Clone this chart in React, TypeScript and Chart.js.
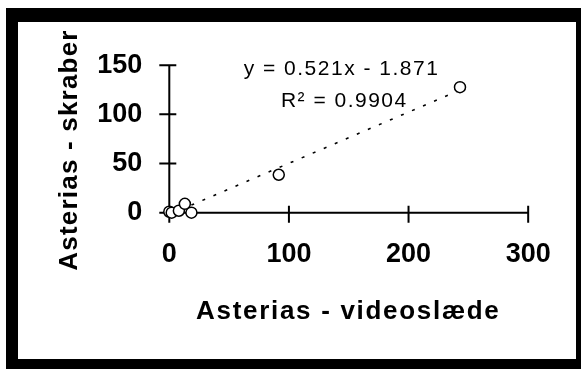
import React, { useEffect, useRef } from 'react';
import { Chart, registerables } from 'chart.js';

Chart.register(...registerables);

// ---- data ----
const xValues = [0, 2, 8, 13, 18.5, 91.5, 243];
const yValues = [1, 0, 2, 9, 0, 38.6, 127.7];
const trendX = [0, 243];
const trendY = [-1.87, 124.7];
const xTicks = [0, 100, 200, 300];
const yTicks = [0, 50, 100, 150];
const xTitle = 'Asterias - videoslæde';
const yTitle = 'Asterias - skraber';
const equationLines = ['y = 0.521x - 1.871', 'R² = 0.9904'];

const FONT = '"Liberation Sans", Arial, sans-serif';

const overlay = {
  id: 'overlay',
  beforeDatasetsDraw(chart: any) {
    const { ctx, scales } = chart;
    const x = scales.x;
    const y = scales.y;
    const x0 = x.getPixelForValue(0);
    const y0 = y.getPixelForValue(0);
    const xEnd = x.getPixelForValue(xTicks[xTicks.length - 1]);
    const yEnd = y.getPixelForValue(yTicks[yTicks.length - 1]);
    ctx.save();
    ctx.strokeStyle = '#000';
    ctx.lineWidth = 2;
    ctx.beginPath();
    ctx.moveTo(x0, yEnd);
    ctx.lineTo(x0, y0);
    ctx.moveTo(x0, y0);
    ctx.lineTo(xEnd, y0);
    xTicks.forEach((v) => {
      const px = x.getPixelForValue(v);
      ctx.moveTo(px, y0 - 7);
      ctx.lineTo(px, y0 + 10);
    });
    yTicks.forEach((v) => {
      const py = y.getPixelForValue(v);
      ctx.moveTo(x0 - 10, py);
      ctx.lineTo(x0 + 7, py);
    });
    ctx.stroke();
    ctx.restore();
  },
  afterDraw(chart: any) {
    const { ctx, chartArea } = chart;
    ctx.save();
    ctx.fillStyle = '#000';
    // x title
    ctx.font = `bold 26px ${FONT}`;
    (ctx as any).letterSpacing = '1.7px';
    ctx.textAlign = 'center';
    ctx.textBaseline = 'alphabetic';
    ctx.fillText(xTitle, (chartArea.left + chartArea.right) / 2 - 0.5, chartArea.bottom + 106.6);
    // y title
    (ctx as any).letterSpacing = '1.2px';
    ctx.save();
    ctx.translate(58.7, 128);
    ctx.rotate(-Math.PI / 2);
    ctx.fillText(yTitle, 0, 0);
    ctx.restore();
    // equation
    ctx.font = `21px ${FONT}`;
    (ctx as any).letterSpacing = '1.5px';
    ctx.fillText(equationLines[0], 323.5, 53);
    ctx.fillText(equationLines[1], 326.3, 84.5);
    (ctx as any).letterSpacing = '0px';
    ctx.restore();
  },
};

export default function App() {
  const canvasRef = useRef<HTMLCanvasElement | null>(null);

  useEffect(() => {
    document.body.style.margin = '0';
    const canvas = canvasRef.current;
    if (!canvas) return;
    const tickFont = { family: FONT, size: 27, weight: 'bold' as const };
    const chart = new Chart(canvas, {
      type: 'scatter',
      data: {
        datasets: [
          {
            label: 'data',
            data: xValues.map((v, i) => ({ x: v, y: yValues[i] })),
            pointStyle: 'circle',
            pointRadius: 5.5,
            pointBorderWidth: 1.5,
            pointBorderColor: '#000',
            pointBackgroundColor: '#fff',
            borderColor: '#000',
            backgroundColor: '#fff',
            showLine: false,
            clip: false as any,
            order: 0,
          },
          {
            label: 'trend',
            data: trendX.map((v, i) => ({ x: v, y: trendY[i] })),
            showLine: true,
            borderColor: '#000',
            borderWidth: 1.6,
            borderDash: [3, 9],
            pointRadius: 0,
            order: 1,
          },
        ],
      },
      options: {
        responsive: false,
        animation: false,
        events: [],
        layout: { padding: { top: 37.5, right: 43.7, left: 0, bottom: 0 } },
        plugins: {
          legend: { display: false },
          tooltip: { enabled: false },
          title: { display: false },
        },
        scales: {
          x: {
            type: 'linear',
            position: 'bottom',
            min: 0,
            max: 300,
            afterBuildTicks: (s: any) => {
              s.ticks = xTicks.map((v) => ({ value: v }));
            },
            afterFit: (s: any) => {
              s.height = 146.3;
            },
            ticks: {
              padding: 25.3,
              font: tickFont,
              color: '#000',
              maxRotation: 0,
              autoSkip: false,
            },
            grid: { display: false, drawTicks: false },
            border: { display: false },
          },
          y: {
            type: 'linear',
            position: 'left',
            min: 0,
            max: 150,
            afterBuildTicks: (s: any) => {
              s.ticks = yTicks.map((v) => ({ value: v }));
            },
            afterFit: (s: any) => {
              s.width = 151.3;
            },
            ticks: {
              padding: 27,
              font: tickFont,
              color: '#000',
              autoSkip: false,
            },
            grid: { display: false, drawTicks: false },
            border: { display: false },
          },
        },
      },
      plugins: [overlay],
    });
    return () => chart.destroy();
  }, []);

  return (
    <div style={{ position: 'relative', width: 581, height: 369, background: '#fff', overflow: 'hidden' }}>
      <div style={{ position: 'absolute', left: 6, top: 8, width: 575, height: 361, background: '#000' }} />
      <div style={{ position: 'absolute', left: 18, top: 22, width: 558, height: 337, background: '#fff' }}>
        <canvas ref={canvasRef} width={558} height={337} style={{ display: 'block', width: 558, height: 337 }} />
      </div>
    </div>
  );
}
